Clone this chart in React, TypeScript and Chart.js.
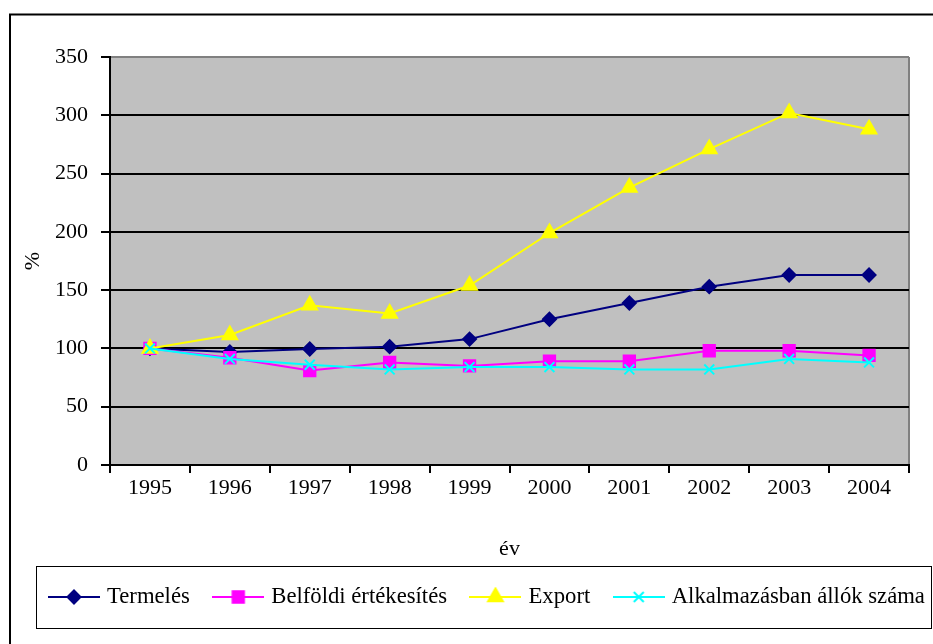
import React, { useEffect, useRef } from 'react';
import { Chart, registerables } from 'chart.js';
import { drawPoint } from 'chart.js/helpers';

Chart.register(...registerables);

const years = ['1995', '1996', '1997', '1998', '1999', '2000', '2001', '2002', '2003', '2004'];
const termeles = [100, 97, 99.5, 101.5, 108, 125, 139, 153, 163, 163];
const belfoldi = [100, 92, 81, 88, 85, 89, 89, 98, 98, 94];
const exportData = [100, 111.5, 137, 130, 154, 199, 238, 271, 302, 288];
const alkalmazas = [100, 91, 86, 82, 84, 84, 82, 82, 91, 88];
const seriesNames = ['Termelés', 'Belföldi értékesítés', 'Export', 'Alkalmazásban állók száma'];
const seriesColors = ['#000080', '#FF00FF', '#FFFF00', '#00FFFF'];
const seriesMarkers = ['rectRot', 'rect', 'triangle', 'crossRot'];
const seriesRadius = [6.5, 8, 8.5, 7];
const yMin = 0;
const yMax = 350;
const yStep = 50;
const yTitle = '%';
const xTitle = 'év';

const FONT = "'Times New Roman', 'Liberation Serif', serif";
const CANVAS_W = 1100;
const CANVAS_H = 644;
const LEGEND_FONT = 22.7;
const LEGEND_PAD = 26.8;
const LEGEND_IMG_W = 52;
const LEGEND_BOX_W = 43.3;

function legendImage(color: string, style: string, radius: number) {
  const c = document.createElement('canvas');
  c.width = LEGEND_IMG_W;
  c.height = 20;
  const ctx = c.getContext('2d')!;
  ctx.strokeStyle = color;
  ctx.fillStyle = color;
  ctx.lineWidth = 2;
  ctx.beginPath();
  ctx.moveTo(0, 10);
  ctx.lineTo(LEGEND_IMG_W, 10);
  ctx.stroke();
  drawPoint(ctx, { pointStyle: style as any, radius, borderWidth: 2, rotation: 0 } as any, LEGEND_IMG_W / 2, 10);
  return c;
}

const framePlugin = {
  id: 'frame',
  afterLayout(chart: any) {
    if (chart.legend) {
      chart.legend.left = 48 - LEGEND_PAD - LEGEND_BOX_W / 2 + LEGEND_IMG_W / 2;
    }
  },
  beforeDraw(chart: any) {
    const { ctx, chartArea: a } = chart;
    ctx.save();
    ctx.fillStyle = '#ffffff';
    ctx.fillRect(0, 0, chart.width, chart.height);
    ctx.fillStyle = '#C0C0C0';
    ctx.fillRect(a.left, a.top, a.right - a.left, a.bottom - a.top);
    ctx.strokeStyle = '#808080';
    ctx.lineWidth = 2;
    ctx.beginPath();
    ctx.moveTo(a.right, a.top);
    ctx.lineTo(a.right, a.bottom);
    ctx.stroke();
    ctx.strokeStyle = '#000000';
    ctx.lineWidth = 2;
    ctx.strokeRect(10, 14.5, 2000, 2000);
    ctx.lineWidth = 1;
    ctx.strokeRect(36.5, 566.5, 895, 62);
    ctx.restore();
  },
};

export default function App() {
  const ref = useRef<HTMLCanvasElement | null>(null);

  useEffect(() => {
    if (!ref.current) return;
    const values = [termeles, belfoldi, exportData, alkalmazas];
    const datasets = values.map((data, i) => ({
      label: seriesNames[i],
      data,
      yAxisID: 'y',
      borderColor: seriesColors[i],
      backgroundColor: seriesColors[i],
      borderWidth: 2,
      pointStyle: seriesMarkers[i] as any,
      pointRadius: seriesRadius[i],
      pointBorderWidth: 2,
      pointBackgroundColor: seriesColors[i],
      pointBorderColor: seriesColors[i],
      tension: 0,
      order: 4 - i,
    }));
    const images = seriesNames.map((_, i) => legendImage(seriesColors[i], seriesMarkers[i], seriesRadius[i]));

    const chart = new Chart(ref.current, {
      type: 'line',
      data: { labels: years, datasets },
      plugins: [framePlugin],
      options: {
        animation: false,
        responsive: false,
        devicePixelRatio: 1,
        layout: { padding: { left: 0, right: 0, top: 57, bottom: 25.65 } },
        plugins: {
          tooltip: { enabled: false },
          title: { display: false },
          legend: {
            display: true,
            position: 'bottom',
            align: 'start',
            labels: {
              font: { family: FONT, size: LEGEND_FONT },
              color: '#000',
              usePointStyle: true,
              pointStyleWidth: LEGEND_BOX_W,
              padding: LEGEND_PAD,
              generateLabels: () =>
                seriesNames.map((name, i) => ({
                  text: name,
                  fillStyle: seriesColors[i],
                  strokeStyle: seriesColors[i],
                  lineWidth: 0,
                  pointStyle: images[i] as any,
                  hidden: false,
                  datasetIndex: i,
                  fontColor: '#000',
                })),
            },
          },
        },
        scales: {
          x: {
            type: 'category',
            offset: true,
            afterFit: (s: any) => {
              s.height = 93.85;
            },
            grid: {
              display: true,
              offset: true,
              drawOnChartArea: false,
              drawTicks: true,
              tickLength: 8,
              color: '#000',
              lineWidth: 2,
            },
            border: { display: true, color: '#000', width: 2 },
            ticks: {
              color: '#000',
              font: { family: FONT, size: 22 },
              padding: 2,
              maxRotation: 0,
              autoSkip: false,
            },
            title: {
              display: true,
              text: xTitle,
              color: '#000',
              font: { family: FONT, size: 22, lineHeight: 1 },
              padding: { top: 0, bottom: -1 },
            },
          },
          y: {
            position: 'left',
            min: yMin,
            max: yMax,
            afterFit: (s: any) => {
              s.width = 110;
            },
            grid: {
              display: true,
              drawOnChartArea: true,
              drawTicks: true,
              tickLength: 9,
              color: (c: any) => (c.tick && c.tick.value === yMax ? '#808080' : '#000'),
              tickColor: '#000',
              lineWidth: 2,
              tickWidth: 2,
            },
            border: { display: true, color: '#000', width: 2 },
            ticks: {
              stepSize: yStep,
              color: '#000',
              font: { family: FONT, size: 22 },
              padding: 13,
            },
            title: {
              display: true,
              text: yTitle,
              color: '#000',
              font: { family: FONT, size: 22, lineHeight: 1 },
              padding: { top: 22, bottom: 0 },
            },
          },
          spacer: {
            type: 'linear',
            position: 'right',
            display: true,
            afterFit: (s: any) => {
              s.width = CANVAS_W - 909;
            },
            grid: { display: false, drawTicks: false },
            border: { display: false },
            ticks: { display: false },
          },
        },
      },
    });
    return () => chart.destroy();
  }, []);

  return (
    <div style={{ position: 'fixed', left: 0, top: 0, width: 933, height: 644, overflow: 'hidden', background: '#fff' }}>
      <canvas ref={ref} width={CANVAS_W} height={CANVAS_H} style={{ display: 'block', width: CANVAS_W, height: CANVAS_H }} />
    </div>
  );
}
